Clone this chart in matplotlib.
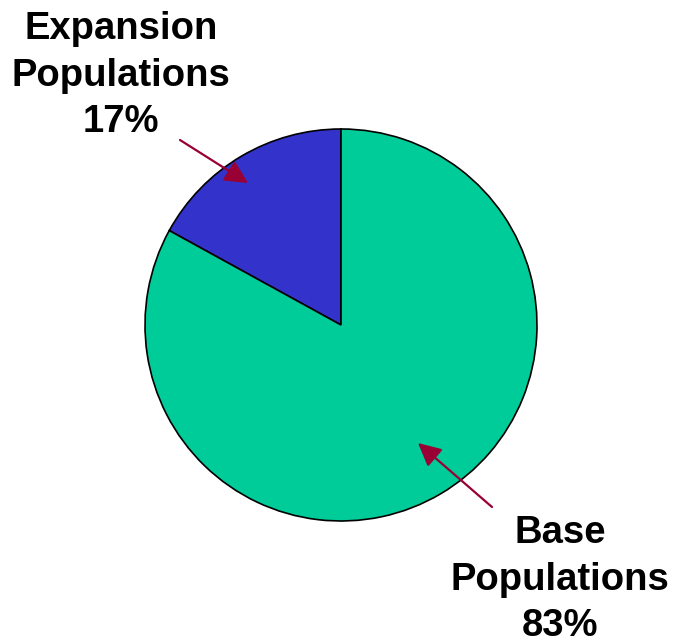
import matplotlib

matplotlib.use("Agg")
import matplotlib.pyplot as plt

# slice data (counter-clockwise from 12 o'clock)
labels = ["Expansion\nPopulations", "Base\nPopulations"]
shares = [17, 83]
colors = ["#3333CC", "#00CC99"]

W, H = 673, 644
fig = plt.figure(figsize=(W / 100, H / 100), dpi=100)
ax = fig.add_axes([0, 0, 1, 1])

ax.pie(
    shares,
    colors=colors,
    startangle=90,
    counterclock=True,
    center=(341, 319),
    radius=196,
    wedgeprops=dict(edgecolor="black", linewidth=1.2),
    frame=True,
)
ax.set_xlim(0, W)
ax.set_ylim(0, H)
ax.set_aspect("equal")
ax.axis("off")

font = dict(family=["Liberation Sans", "DejaVu Sans"], fontsize=27.5, fontweight="bold")
# anchor = baseline of the last line
label_pos = [(121, 512), (560, 8)]
arrows = [((180, 504), (248, 461)), ((492, 137), (418, 201))]

for lab, val, (x, y), (start, tip) in zip(labels, shares, label_pos, arrows):
    ax.text(x, y, f"{lab}\n{val}%", ha="center", va="baseline",
            linespacing=1.37, **font)
    ax.annotate(
        "",
        xy=tip,
        xytext=start,
        arrowprops=dict(
            arrowstyle="-|>,head_length=0.7,head_width=0.35",
            color="#990033",
            lw=1.6,
            mutation_scale=20,
            shrinkA=0,
            shrinkB=0,
        ),
    )

fig.savefig("out.png", dpi=100)
